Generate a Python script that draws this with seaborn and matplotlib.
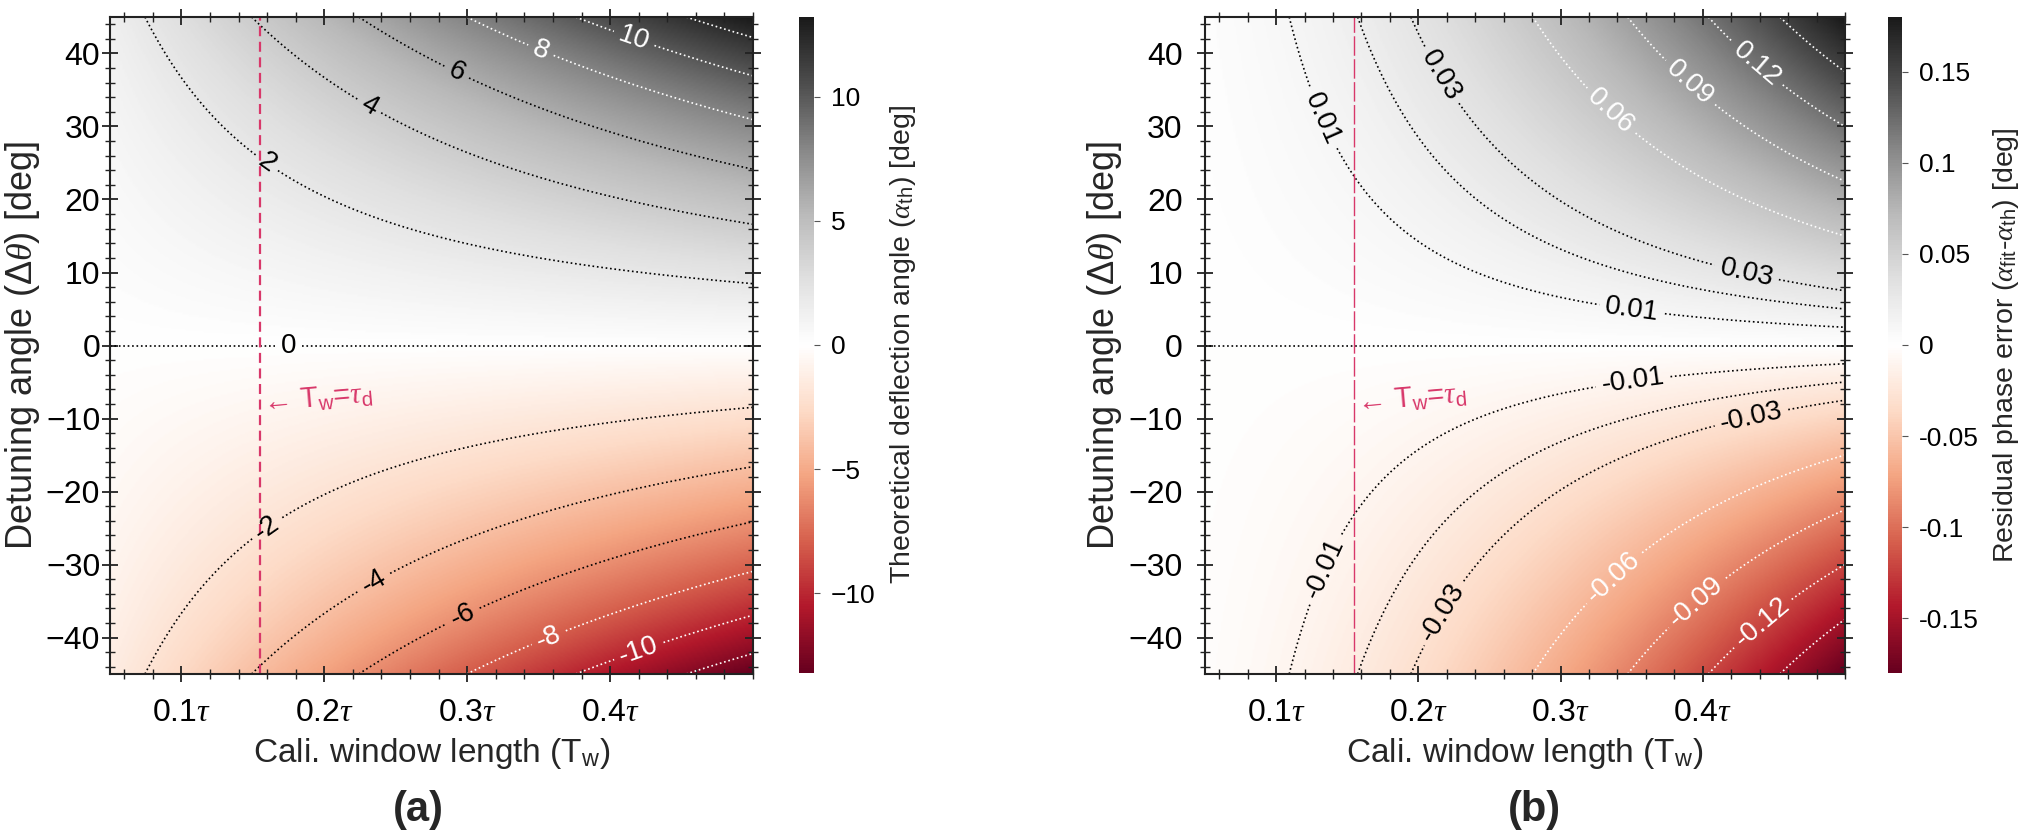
import numpy as np
import matplotlib
matplotlib.use("Agg")
import matplotlib.pyplot as plt
from matplotlib.ticker import MultipleLocator
import seaborn as sns

# axis ranges
tw_range = [0.05, 0.5]          # calibration window length, units of tau
dtheta_range = [-45, 45]        # detuning angle, deg
tw_d = 0.155                    # T_w = tau_d marker

# field parameters fitted to the contour crossings in the picture
defl_gain = 0.469               # alpha_th = atan(gain * Tw * tan(dtheta))
resid_gain = 0.01493            # residual = gain * Tw**power * dtheta
resid_power = 1.9

# contour levels
labeled_a = [-10, -8, -6, -4, -2, 0, 2, 4, 6, 8, 10]
plain_a = [-12, 12]
white_from_a = 8
labeled_b = [-0.12, -0.09, -0.06, -0.03, -0.01, 0.01, 0.03, 0.06, 0.09, 0.12]
plain_b = [-0.15, -0.02, 0, 0.02, 0.15]
white_from_b = 0.06

# label positions (Tw, dtheta)
label_pos_a = [(0.156, 24), (0.229, 32), (0.291, 36.8), (0.350, 39.7), (0.416, 41.6),
               (0.175, 0), (0.160, -25), (0.235, -32.5), (0.297, -37), (0.357, -40),
               (0.420, -41.8)]
label_pos_b = [(0.134, 31.2), (0.2135, 36.7), (0.333, 31.6), (0.388, 35.3), (0.434, 37.6),
               (0.430, 9.3), (0.350, 4.5), (0.351, -4.9), (0.434, -9.7), (0.140, -31),
               (0.219, -36.8), (0.338, -31.9), (0.395, -35), (0.441, -37.8)]

xticks = [0.1, 0.2, 0.3, 0.4]
xtick_labels = [r"0.1$\tau$", r"0.2$\tau$", r"0.3$\tau$", r"0.4$\tau$"]
yticks = [-40, -30, -20, -10, 0, 10, 20, 30, 40]
cbar_ticks_a = [-10, -5, 0, 5, 10]
cbar_ticks_b = [-0.15, -0.1, -0.05, 0, 0.05, 0.1, 0.15]
cbar_labels_b = ["-0.15", "-0.1", "-0.05", "0", "0.05", "0.1", "0.15"]

sns.set_theme(style="ticks")
plt.rcParams["font.family"] = ["Liberation Sans", "DejaVu Sans"]
plt.rcParams["mathtext.fontset"] = "custom"
plt.rcParams["mathtext.rm"] = "Liberation Sans"
plt.rcParams["mathtext.it"] = "Liberation Serif:italic"
plt.rcParams["axes.edgecolor"] = "#222222"

cmap = sns.color_palette("RdGy", as_cmap=True)
line_red = "#d8386a"

# grid (even count so 0 is not sampled exactly)
tw = np.linspace(tw_range[0], tw_range[1], 400)
dth = np.linspace(dtheta_range[0], dtheta_range[1], 400)
TW, DT = np.meshgrid(tw, dth)
alpha_th = np.degrees(np.arctan(defl_gain * TW * np.tan(np.radians(DT))))
resid = resid_gain * TW ** resid_power * DT

W, H = 2030, 838
fig = plt.figure(figsize=(W / 100, H / 100), dpi=100)
ax_a = fig.add_axes([110 / W, 1 - 674 / H, 643 / W, 657 / H])
cax_a = fig.add_axes([799 / W, 1 - 673 / H, 15 / W, 656 / H])
ax_b = fig.add_axes([1205 / W, 1 - 674 / H, 640 / W, 657 / H])
cax_b = fig.add_axes([1888 / W, 1 - 673 / H, 14 / W, 656 / H])


def line_colors(levels, white_from):
    return ["white" if abs(l) >= white_from - 1e-9 else "black" for l in levels]


def draw_panel(ax, cax, field, vmax, labeled, plain, white_from, label_pos, fmt,
               cbar_ticks, cbar_labels, cbar_title, vline_lw, vline_ls, ypad, letter):
    im = ax.imshow(field, origin="lower", aspect="auto", cmap=cmap, vmin=-vmax, vmax=vmax,
                   extent=[tw_range[0], tw_range[1], dtheta_range[0], dtheta_range[1]],
                   interpolation="bilinear")
    ax.contour(TW, DT, field, levels=plain, colors=line_colors(plain, white_from),
               linestyles=":", linewidths=1.2)
    cs = ax.contour(TW, DT, field, levels=labeled, colors=line_colors(labeled, white_from),
                    linestyles=":", linewidths=1.2)
    ax.clabel(cs, inline=True, fontsize=20, fmt=fmt, manual=label_pos, inline_spacing=6)
    ax.axvline(tw_d, color=line_red, lw=vline_lw, ls=vline_ls)
    ax.text(tw_d + 0.001, -7.3, "\u2190 T$_\\mathrm{w}$=$\\tau_\\mathrm{d}$", color=line_red,
            fontsize=21, ha="left", va="center", rotation=5)

    ax.set_xlim(tw_range)
    ax.set_ylim(dtheta_range)
    ax.set_xticks(xticks)
    ax.set_xticklabels(xtick_labels)
    ax.set_yticks(yticks)
    ax.xaxis.set_minor_locator(MultipleLocator(0.02))
    ax.yaxis.set_minor_locator(MultipleLocator(2))
    ax.tick_params(which="both", direction="inout", top=True, right=True,
                   colors="#222222", labelcolor="black")
    ax.tick_params(which="major", length=12, width=1.3, labelsize=23)
    ax.tick_params(which="minor", length=7, width=1.0)
    ax.tick_params(axis="x", which="major", pad=11)
    ax.tick_params(axis="y", which="major", pad=ypad)
    for s in ax.spines.values():
        s.set_linewidth(1.5)
    ax.set_xlabel("Cali. window length (T$_\\mathrm{w}$)", fontsize=24, labelpad=6)
    ax.set_ylabel("Detuning angle ($\\Delta\\theta$) [deg]", fontsize=26, labelpad=3)

    cb = fig.colorbar(im, cax=cax, ticks=cbar_ticks)
    cb.outline.set_visible(False)
    if cbar_labels is not None:
        cb.ax.set_yticklabels(cbar_labels)
    cb.ax.tick_params(labelsize=19, length=4, width=0.8, colors="#555555",
                      labelcolor="black", pad=8)
    cb.set_label(cbar_title, fontsize=20.5, labelpad=9)

    fig.text(letter[1], 1 - 810 / H, letter[0], fontsize=30, fontweight="bold",
             ha="center", va="center")


draw_panel(ax_a, cax_a, alpha_th, 13.2, labeled_a, plain_a, white_from_a, label_pos_a,
           lambda v: f"{v:.0f}", cbar_ticks_a, None,
           "Theoretical deflection angle ($\\alpha_\\mathrm{th}$) [deg]",
           1.6, (0, (4.5, 2.5)), 1, ("(a)", 418 / W))
draw_panel(ax_b, cax_b, resid, 0.18, labeled_b, plain_b, white_from_b, label_pos_b,
           lambda v: f"{v:.2f}", cbar_ticks_b, cbar_labels_b,
           "Residual phase error ($\\alpha_\\mathrm{fit}$-$\\alpha_\\mathrm{th}$) [deg]",
           1.0, (0, (14, 2.5)), 10, ("(b)", 1534 / W))

fig.savefig("out.png", dpi=100)
